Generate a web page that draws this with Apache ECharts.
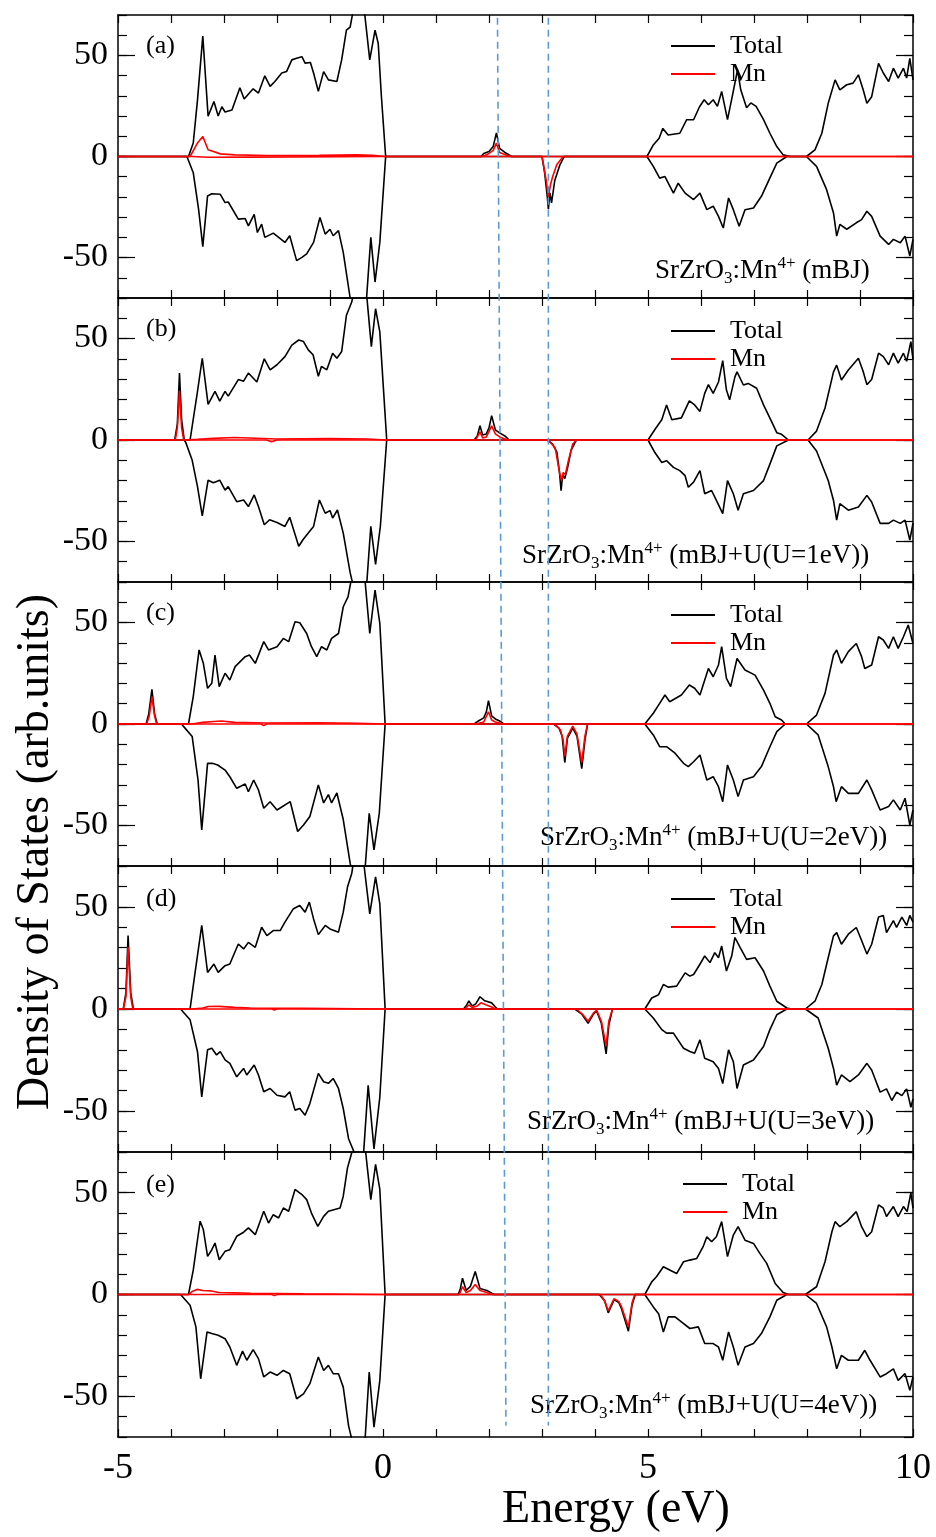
<!DOCTYPE html>
<html><head><meta charset="utf-8">
<script src="https://cdn.jsdelivr.net/npm/echarts@6/dist/echarts.min.js"></script>
<style>html,body{margin:0;padding:0;background:#fff}#c{width:936px;height:1537px}</style>
</head><body><div id="c"></div>
<script>
// ===== DATA (Energy eV, DOS arb.units) =====
const xTickLabels = [-5, 0, 5, 10];
const yTickLabels = [-50, 0, 50];
const legendNames = ['Total', 'Mn'];
const panelTags = ['(a)', '(b)', '(c)', '(d)', '(e)'];
const methodTexts = [' (mBJ)', ' (mBJ+U(U=1eV))', ' (mBJ+U(U=2eV))', ' (mBJ+U(U=3eV))', ' (mBJ+U(U=4eV))'];
const dashLineA = [[2.16, 0.998], [2.32, 0.008]];
const dashLineB = [[3.12, 0.998], [3.12, 0.008]];

// panel (a)
const aTotUp = [[-5,0],[-3.67,0],[-3.58,6.7],[-3.5,28],[-3.4,59.6],[-3.3,19.9],[-3.19,27.2],[-3.11,20],[-3.04,24.6],[-2.98,22],[-2.85,23],[-2.7,34],[-2.62,28.4],[-2.45,33.5],[-2.35,31.4],[-2.23,39.9],[-2.13,34.7],[-2.04,37.1],[-1.91,41.3],[-1.82,42],[-1.72,47.8],[-1.63,48.6],[-1.53,49.4],[-1.47,46.2],[-1.37,46.5],[-1.31,41.3],[-1.22,32.2],[-1.12,42],[-1.03,37.9],[-0.87,37.1],[-0.78,47.8],[-0.69,62.5],[-0.62,64],[-0.55,74],[-0.45,84],[-0.36,74],[-0.25,47.8],[-0.15,62.5],[-0.09,55.9],[-0.03,29.7],[0.05,0],[1.85,0],[1.9,1.5],[2.0,2.5],[2.08,5],[2.14,11.7],[2.2,4],[2.3,2],[2.43,0],[4.98,0],[5.1,5.7],[5.21,9],[5.28,13.9],[5.38,10.6],[5.6,11.5],[5.73,18.2],[5.86,18.2],[5.97,24.5],[6.06,28.1],[6.14,25.6],[6.23,28.1],[6.31,24.8],[6.39,32.2],[6.5,18.2],[6.59,29.7],[6.69,42.9],[6.75,33],[6.86,24.1],[6.94,26.5],[7.04,24.8],[7.18,18.2],[7.3,11.5],[7.43,4.9],[7.55,0.8],[7.68,0],[7.99,0],[8.15,3.3],[8.28,11.5],[8.4,26.3],[8.53,37.9],[8.62,33],[8.75,35.5],[8.87,36.3],[8.97,40.4],[9.06,33],[9.13,26.3],[9.22,29.6],[9.35,46.1],[9.44,41.3],[9.54,37.1],[9.63,43.7],[9.72,38.8],[9.82,43.7],[9.88,38.8],[9.94,48.6],[10,37.9]];
const aTotDn = [[-5,0],[-3.7,0],[-3.58,-8],[-3.48,-26],[-3.4,-44.6],[-3.31,-19.5],[-3.23,-18.4],[-3.07,-18.7],[-2.98,-22.8],[-2.92,-22.5],[-2.73,-31],[-2.6,-30.7],[-2.54,-34.3],[-2.43,-28.6],[-2.37,-37.6],[-2.29,-33.5],[-2.23,-40],[-2.07,-37.9],[-1.85,-42.5],[-1.76,-39.2],[-1.63,-51.5],[-1.53,-49.9],[-1.44,-48.2],[-1.31,-42.5],[-1.19,-30.2],[-1.09,-38.4],[-1.0,-36],[-0.94,-39.2],[-0.84,-36.7],[-0.75,-47.4],[-0.62,-70],[-0.5,-85],[-0.4,-80],[-0.31,-70],[-0.23,-40],[-0.15,-62.1],[-0.06,-42.5],[0.05,0],[3.0,0],[3.05,-8],[3.1,-20],[3.12,-26],[3.15,-18],[3.18,-23],[3.24,-12],[3.34,-4],[3.42,0],[4.98,0],[5.1,-4.9],[5.22,-10.7],[5.32,-9.9],[5.48,-18.1],[5.57,-13.2],[5.7,-18.1],[5.86,-21.3],[5.98,-18.1],[6.11,-26.3],[6.23,-24.6],[6.33,-29.6],[6.42,-35.4],[6.52,-20.5],[6.61,-26.3],[6.72,-34.5],[6.83,-26.3],[6.99,-25.5],[7.14,-19.7],[7.27,-12.3],[7.43,-3.3],[7.62,0],[7.99,0],[8.18,-4.9],[8.37,-16.4],[8.5,-27.9],[8.56,-39.4],[8.62,-33.6],[8.75,-36],[8.93,-32.8],[9.03,-31.2],[9.13,-27.1],[9.22,-29.6],[9.38,-39.4],[9.54,-43.5],[9.63,-41],[9.76,-42.7],[9.85,-39.4],[9.94,-49.2],[10,-41]];
const aMnUp = [[-5,0],[-3.64,0],[-3.5,6.7],[-3.4,9.9],[-3.3,3.3],[-3.2,2.5],[-3.07,1.3],[-2.8,0.8],[-2.2,0.5],[-1.2,0.6],[-0.5,0.8],[-0.2,0.6],[0.05,0],[1.88,0],[2.0,1.5],[2.08,3],[2.14,6.6],[2.2,2],[2.35,0.5],[2.43,0],[10,0]];
const aMnDn = [[-5,0],[-3.6,0],[-3.3,-0.4],[-2.5,-0.3],[0,0],[3.0,0],[3.08,-12],[3.12,-20],[3.16,-14],[3.2,-10],[3.28,-4],[3.4,0],[10,0]];

// panel (b)
const bTotUp = [[-5,0],[-3.93,0],[-3.88,8],[-3.84,33],[-3.8,10],[-3.75,0],[-3.64,0],[-3.5,24],[-3.41,40.3],[-3.3,17.6],[-3.17,24],[-3.08,19.2],[-2.98,24],[-2.92,21.6],[-2.73,29.8],[-2.63,29],[-2.54,33],[-2.38,28.6],[-2.24,40],[-2.13,34.6],[-2.0,37.1],[-1.85,41.1],[-1.72,46.8],[-1.59,49.3],[-1.5,48.5],[-1.41,44.4],[-1.32,42],[-1.22,31.4],[-1.16,36.3],[-1.06,34.6],[-0.95,42.8],[-0.87,40.3],[-0.78,43.6],[-0.69,61.5],[-0.59,68],[-0.5,80],[-0.4,85],[-0.31,72],[-0.22,46],[-0.14,64.7],[-0.06,53.3],[0.07,0],[1.72,0],[1.78,2],[1.83,7],[1.88,2.5],[1.95,3],[2.0,6],[2.05,12],[2.12,5],[2.2,3.5],[2.3,2],[2.38,0],[5.0,0],[5.13,5.2],[5.26,10],[5.35,17.3],[5.45,10],[5.63,10.9],[5.78,19.3],[5.88,17.3],[5.98,14.1],[6.07,23],[6.14,27.3],[6.23,23],[6.33,28.6],[6.41,39.1],[6.48,24.6],[6.54,19.8],[6.64,31.1],[6.68,33.6],[6.8,27.1],[6.89,27.9],[7.05,25.5],[7.18,17.3],[7.33,9.2],[7.43,3.6],[7.52,2.8],[7.65,0],[8.02,0],[8.18,4.4],[8.34,15.8],[8.5,33.6],[8.56,36.9],[8.65,29.6],[8.78,34.5],[8.97,40.3],[9.06,33.8],[9.13,27.3],[9.22,29.8],[9.35,42.8],[9.44,41.1],[9.54,37.1],[9.63,42.8],[9.72,37.9],[9.82,42.8],[9.88,38.8],[9.96,48.5],[10,39.7]];
const bTotDn = [[-5,0],[-3.75,0],[-3.72,-1.3],[-3.6,-10],[-3.5,-23],[-3.41,-37.4],[-3.3,-19.8],[-3.2,-21.1],[-3.08,-19.8],[-2.98,-24.7],[-2.92,-23],[-2.76,-30.4],[-2.63,-29.6],[-2.54,-32.8],[-2.43,-27.1],[-2.35,-32.8],[-2.24,-41.8],[-2.14,-39.3],[-2.0,-40.7],[-1.85,-42.6],[-1.76,-38.1],[-1.59,-52.4],[-1.51,-49.2],[-1.41,-45.9],[-1.31,-42.6],[-1.2,-29.6],[-1.09,-36.1],[-1.0,-34.8],[-0.95,-38.5],[-0.86,-34.5],[-0.75,-45.9],[-0.62,-65.4],[-0.56,-72],[-0.45,-85],[-0.31,-72],[-0.23,-42.6],[-0.14,-61.3],[-0.05,-42.6],[0.07,0],[3.1,0],[3.2,-2],[3.28,-6],[3.33,-16],[3.36,-25],[3.39,-17],[3.43,-19],[3.48,-14],[3.55,-5],[3.65,0],[5.0,0],[5.13,-6.2],[5.26,-11.1],[5.35,-10.2],[5.48,-13.5],[5.6,-15.1],[5.7,-17.6],[5.76,-23.3],[5.86,-20.8],[5.98,-15.1],[6.07,-26.5],[6.2,-24.9],[6.29,-29.8],[6.41,-36.3],[6.5,-20],[6.61,-26.5],[6.7,-34.6],[6.8,-26.5],[6.99,-24.9],[7.18,-20],[7.3,-11.9],[7.43,-2.9],[7.65,0],[8.02,0],[8.18,-5.4],[8.4,-20],[8.5,-29.8],[8.56,-39.5],[8.62,-31.4],[8.78,-34.6],[8.97,-33],[9.13,-27.3],[9.22,-30.6],[9.38,-41.1],[9.54,-41.1],[9.63,-39.5],[9.76,-41.1],[9.85,-39.5],[9.94,-49.3],[10,-41]];
const bMnUp = [[-5,0],[-3.92,0],[-3.88,6],[-3.84,24.2],[-3.8,6],[-3.76,0],[-3.5,0.3],[-3.2,0.8],[-2.8,1.2],[-2.0,0.5],[-1.0,0.7],[-0.3,0.5],[0.05,0],[1.75,0],[1.83,4],[1.88,1],[1.95,1.5],[2.05,7],[2.12,3],[2.2,1.5],[2.3,0.5],[2.35,0],[10,0]];
const bMnDn = [[-5,0],[-2.2,0],[-2.1,-0.8],[-2.0,0],[3.12,0],[3.25,-4],[3.33,-16],[3.37,-20],[3.4,-16],[3.44,-17],[3.5,-10],[3.58,-2],[3.65,0],[10,0]];

// panel (c)
const cTotUp = [[-5,0],[-4.47,0],[-4.42,5],[-4.36,17.1],[-4.31,5],[-4.26,0],[-3.67,0],[-3.58,13.5],[-3.47,36.5],[-3.39,29.9],[-3.31,17.6],[-3.23,20.1],[-3.17,34],[-3.09,18.4],[-2.98,25],[-2.89,21.7],[-2.79,28.3],[-2.6,33.2],[-2.52,34],[-2.41,29.9],[-2.25,40.6],[-2.16,36.5],[-2.0,38.1],[-1.88,42.2],[-1.78,40.6],[-1.66,50.4],[-1.57,49.9],[-1.44,44.6],[-1.35,38.1],[-1.25,33.2],[-1.16,38.1],[-1.06,36.5],[-0.97,42.2],[-0.84,44.6],[-0.75,57.8],[-0.66,62.7],[-0.6,71],[-0.48,85],[-0.34,71],[-0.25,44.6],[-0.15,66],[-0.06,49.6],[0.04,0],[1.72,0],[1.8,1.5],[1.9,3],[1.95,6],[1.99,11.5],[2.05,4],[2.12,2.5],[2.2,1.5],[2.28,0],[4.94,0],[5.1,5.3],[5.22,10.2],[5.32,14.3],[5.41,11],[5.63,14.3],[5.78,19.2],[5.88,17.6],[5.98,14.3],[6.14,27.4],[6.23,23.3],[6.33,29.1],[6.39,38.1],[6.48,22.5],[6.56,18.4],[6.68,32.3],[6.83,26.6],[7.02,24.1],[7.18,16.7],[7.3,10.2],[7.4,3.6],[7.52,2],[7.59,0],[7.99,0],[8.18,4.4],[8.34,15.1],[8.5,34],[8.56,36.5],[8.65,29.9],[8.78,35.7],[8.93,39.7],[9.03,33.2],[9.09,27.4],[9.22,29.1],[9.35,43],[9.44,41.4],[9.54,37.3],[9.63,43],[9.72,37.3],[9.82,43],[9.91,48.8],[10,39.7]];
const cTotDn = [[-5,0],[-3.8,0],[-3.76,-1.3],[-3.6,-6.2],[-3.49,-27.6],[-3.42,-52.2],[-3.31,-19.4],[-3.22,-19.4],[-3.12,-20.2],[-2.98,-22.7],[-2.89,-26],[-2.76,-31.7],[-2.6,-29.6],[-2.54,-33.4],[-2.44,-27.6],[-2.35,-32.5],[-2.25,-41.5],[-2.13,-38.3],[-2.0,-42.4],[-1.75,-38.3],[-1.61,-53],[-1.5,-49.8],[-1.38,-45.6],[-1.22,-30],[-1.12,-38.9],[-1.03,-34.8],[-0.97,-38.9],[-0.87,-34],[-0.75,-47.1],[-0.62,-68.6],[-0.48,-85],[-0.34,-72],[-0.26,-44],[-0.17,-62],[-0.07,-44],[0.04,0],[3.22,0],[3.32,-2],[3.38,-6],[3.43,-19],[3.48,-7],[3.58,-2],[3.66,-6],[3.75,-22],[3.81,-8],[3.86,0],[4.94,0],[5.1,-5.4],[5.22,-11.2],[5.35,-11.2],[5.51,-14.4],[5.67,-19.4],[5.76,-21],[5.86,-18.6],[5.98,-15.3],[6.11,-27.6],[6.23,-26],[6.33,-30.9],[6.41,-38.3],[6.5,-20.2],[6.61,-27.6],[6.7,-35.8],[6.8,-27.6],[6.99,-26],[7.14,-21],[7.3,-11.2],[7.43,-3.8],[7.59,0],[7.99,0],[8.21,-5.4],[8.4,-21],[8.5,-30.9],[8.55,-38.3],[8.65,-30.9],[8.78,-34.2],[8.97,-34.2],[9.13,-27.6],[9.22,-32.5],[9.38,-42.4],[9.54,-40.7],[9.63,-37.4],[9.76,-42.4],[9.85,-36.6],[9.94,-49.8],[10,-42.4]];
const cMnUp = [[-5,0],[-4.46,0],[-4.41,4],[-4.36,13.5],[-4.31,4],[-4.27,0],[-3.6,0],[-3.4,0.8],[-3.2,1.2],[-3.05,1.5],[-2.8,0.8],[-2.2,0.5],[-1.2,0.6],[-0.5,0.3],[0.04,0],[1.75,0],[1.9,1],[1.99,6],[2.05,2],[2.12,1],[2.2,0.5],[2.25,0],[10,0]];
const cMnDn = [[-5,0],[-2.3,0],[-2.25,-0.8],[-2.2,0],[3.24,0],[3.35,-3],[3.4,-8],[3.43,-16],[3.48,-6],[3.58,-1],[3.66,-5],[3.75,-19],[3.81,-6],[3.86,0],[10,0]];

// panel (d)
const dTotUp = [[-5,0],[-4.9,0],[-4.85,8],[-4.81,36],[-4.76,8],[-4.71,0],[-3.64,0],[-3.55,17.1],[-3.42,40.9],[-3.31,17.9],[-3.19,22],[-3.11,17.9],[-2.98,21.2],[-2.89,22],[-2.73,31.8],[-2.63,29.4],[-2.54,32.6],[-2.41,30.2],[-2.29,40],[-2.19,35.9],[-2.07,38.4],[-1.94,38.4],[-1.85,42.5],[-1.69,49.1],[-1.57,50.7],[-1.47,47.4],[-1.39,52.3],[-1.31,44.1],[-1.22,36.4],[-1.09,40.9],[-1.0,39.2],[-0.84,37.6],[-0.75,47.4],[-0.67,59.7],[-0.59,66.3],[-0.5,82],[-0.37,73],[-0.25,46.6],[-0.14,64.7],[-0.06,51.5],[0.04,0],[1.52,0],[1.58,2],[1.62,4],[1.68,1.5],[1.75,2.5],[1.83,6],[1.92,4],[2.05,3],[2.12,1],[2.16,0],[4.94,0],[5.07,5.4],[5.2,7],[5.29,12],[5.38,10.7],[5.54,11.2],[5.7,17.7],[5.79,16.1],[5.86,16.9],[5.98,21.9],[6.07,26],[6.17,22.7],[6.26,27.6],[6.33,25.1],[6.39,30.8],[6.48,18.6],[6.58,26],[6.64,35],[6.74,30.1],[6.86,24.3],[7.02,25.1],[7.18,18.6],[7.3,11.2],[7.43,3.8],[7.62,0.5],[7.7,0],[7.97,0],[8.15,3.8],[8.28,12],[8.4,25.1],[8.5,35.8],[8.56,37.4],[8.65,31.7],[8.78,36.6],[8.93,39.9],[9.03,33.5],[9.13,26.9],[9.22,31.7],[9.35,45],[9.44,45.8],[9.5,37.4],[9.63,43.3],[9.69,40],[9.79,45],[9.88,40.9],[9.94,45.8],[10,42.5]];
const dTotDn = [[-5,0],[-3.82,0],[-3.8,-0.3],[-3.64,-5.3],[-3.5,-20.9],[-3.42,-43],[-3.31,-20],[-3.23,-19.2],[-3.14,-22.5],[-3.07,-20.9],[-2.98,-24.9],[-2.89,-26.6],[-2.76,-33.2],[-2.63,-29.1],[-2.57,-32.3],[-2.43,-27.4],[-2.35,-32.3],[-2.25,-40.5],[-2.13,-38.9],[-2.0,-42.2],[-1.85,-43],[-1.76,-40.5],[-1.66,-49.5],[-1.57,-48.7],[-1.47,-52],[-1.38,-46.3],[-1.22,-31.5],[-1.12,-35.6],[-1.03,-36.4],[-0.94,-34],[-0.84,-38.9],[-0.75,-48.7],[-0.65,-63.5],[-0.53,-71],[-0.45,-82],[-0.37,-72],[-0.28,-37.3],[-0.17,-68.5],[-0.06,-43.1],[0.04,0],[3.62,0],[3.75,-2.5],[3.87,-7],[3.97,-2.5],[4.03,-1],[4.12,-7],[4.21,-22],[4.26,-8],[4.33,0],[4.94,0],[5.1,-4.4],[5.26,-10.1],[5.35,-11.8],[5.48,-11.8],[5.67,-19.2],[5.79,-20.8],[5.88,-21.7],[5.98,-15.1],[6.07,-24.1],[6.23,-25.8],[6.33,-29.1],[6.41,-36.5],[6.52,-20],[6.61,-25.8],[6.68,-38.9],[6.8,-27.4],[6.99,-25],[7.18,-18.4],[7.3,-10.1],[7.43,-2.8],[7.62,0],[7.97,0],[8.21,-4.4],[8.4,-19.2],[8.5,-29.1],[8.56,-37.3],[8.65,-32.3],[8.81,-35.6],[8.97,-32.3],[9.13,-26.6],[9.22,-29.9],[9.38,-40.7],[9.5,-39.1],[9.6,-44.8],[9.69,-40.7],[9.79,-42.4],[9.88,-39.1],[9.96,-48.1],[10,-44]];
const dMnUp = [[-5,0],[-4.9,0],[-4.85,6],[-4.81,30.3],[-4.76,6],[-4.72,0],[-3.6,0],[-3.4,0.5],[-3.3,1.2],[-3.1,1.3],[-2.8,0.8],[-2.5,0.5],[-1.5,0.3],[0.04,0],[1.55,0],[1.62,2],[1.68,0.8],[1.78,1.5],[1.85,3],[1.95,2],[2.05,1],[2.12,0],[10,0]];
const dMnDn = [[-5,0],[-2.1,0],[-2.05,-0.5],[-2.0,0],[3.65,0],[3.78,-3],[3.87,-6],[3.97,-2],[4.03,-0.5],[4.12,-6],[4.21,-18],[4.26,-6],[4.33,0],[10,0]];

// panel (e)
const eTotUp = [[-5,0],[-3.67,0],[-3.58,12],[-3.5,26.9],[-3.45,36],[-3.39,31.9],[-3.31,18.7],[-3.23,22],[-3.17,25.3],[-3.09,17.1],[-2.98,21.2],[-2.89,22],[-2.76,28.6],[-2.63,30.6],[-2.54,32.7],[-2.41,29.4],[-2.25,40.9],[-2.16,35.1],[-2.07,39.2],[-1.97,37.6],[-1.88,42.5],[-1.78,40.9],[-1.66,51.6],[-1.53,49.1],[-1.44,46.6],[-1.35,40],[-1.23,33.5],[-1.12,38.4],[-1.03,40.9],[-0.81,42.5],[-0.75,48.3],[-0.67,62.2],[-0.59,69.6],[-0.48,85],[-0.34,73],[-0.23,46.6],[-0.14,63.9],[-0.06,51.6],[0.04,0],[1.42,0],[1.46,3],[1.5,8],[1.57,2],[1.65,4],[1.74,11.3],[1.83,3],[1.96,2],[2.06,0.5],[2.1,0],[4.94,0],[5.07,6.2],[5.16,8.7],[5.29,13.6],[5.41,12],[5.54,10.3],[5.67,16.1],[5.79,16.9],[5.92,17.7],[6.04,23.5],[6.11,28.4],[6.2,25.9],[6.29,28.4],[6.39,35.8],[6.5,18.6],[6.61,29.2],[6.7,33.3],[6.83,26.7],[6.99,25.1],[7.11,20.2],[7.24,15.3],[7.4,5.4],[7.55,1],[7.65,0],[7.97,0],[8.18,3.8],[8.34,16.1],[8.47,30.8],[8.53,35.8],[8.62,33.3],[8.75,35.8],[8.93,40.7],[9.03,33.3],[9.13,28.4],[9.22,30.8],[9.35,44],[9.44,42.4],[9.5,38.3],[9.63,43.2],[9.72,38.3],[9.82,43.2],[9.89,40.7],[9.96,49.9],[10,42.4]];
const eTotDn = [[-5,0],[-3.82,0],[-3.8,-0.3],[-3.64,-5.3],[-3.53,-15.9],[-3.44,-41.4],[-3.32,-18.4],[-3.23,-19.2],[-3.11,-20],[-2.98,-21.7],[-2.89,-25.8],[-2.76,-34.8],[-2.65,-27.8],[-2.57,-32.3],[-2.45,-27.1],[-2.35,-31.5],[-2.25,-40.5],[-2.13,-38.1],[-2.0,-39.7],[-1.88,-37.3],[-1.76,-38.9],[-1.63,-51.2],[-1.5,-48.8],[-1.38,-43.8],[-1.22,-30.7],[-1.12,-37.3],[-1.03,-34.8],[-0.94,-38.9],[-0.84,-38.9],[-0.75,-45.5],[-0.65,-64.4],[-0.59,-71],[-0.47,-85],[-0.34,-72],[-0.26,-38.1],[-0.17,-65.2],[-0.06,-42.2],[0.04,0],[4.08,0],[4.18,-3],[4.25,-9],[4.36,-2.5],[4.45,-4],[4.5,-7],[4.63,-18],[4.7,-5],[4.76,0],[4.94,0],[5.1,-6.1],[5.2,-9.4],[5.29,-18.4],[5.38,-11],[5.51,-11],[5.63,-13.5],[5.79,-16.7],[5.95,-15.9],[6.07,-24.1],[6.23,-24.1],[6.33,-25.8],[6.41,-32.3],[6.52,-18.4],[6.61,-25.8],[6.7,-34.8],[6.83,-25.8],[6.99,-24.1],[7.14,-19.2],[7.3,-11],[7.43,-2.8],[7.62,0],[7.97,0],[8.18,-4.4],[8.37,-15.9],[8.47,-25.8],[8.56,-36.5],[8.65,-29.9],[8.78,-32.3],[8.97,-32.3],[9.09,-27.4],[9.19,-32.3],[9.38,-40.5],[9.5,-38.9],[9.63,-36.5],[9.72,-42.2],[9.85,-38.9],[9.94,-47.1],[10,-40.5]];
const eMnUp = [[-5,0],[-3.66,0],[-3.6,1.5],[-3.51,2.5],[-3.4,2],[-3.26,1.8],[-3.1,1],[-2.8,0.8],[-2.5,0.6],[-1.5,0.3],[0.04,0],[1.44,0],[1.5,3.8],[1.57,1],[1.65,2],[1.74,4.9],[1.83,2],[1.96,1],[2.06,0],[10,0]];
const eMnDn = [[-5,0],[-2.1,0],[-2.05,-0.5],[-2.0,0],[4.1,0],[4.18,-3],[4.25,-8],[4.36,-2],[4.45,-3.5],[4.5,-6],[4.63,-16],[4.7,-4],[4.75,0],[10,0]];

// ===== BUILD =====
const FONT = '"Liberation Serif","Times New Roman",serif';
const panels = [
  [aTotUp, aTotDn, aMnUp, aMnDn],
  [bTotUp, bTotDn, bMnUp, bMnDn],
  [cTotUp, cTotDn, cMnUp, cMnDn],
  [dTotUp, dTotDn, dMnUp, dMnDn],
  [eTotUp, eTotDn, eMnUp, eMnDn]
];
const gridTop = [15, 298, 582, 866, 1152];
const gridH = [283, 284, 284, 286, 285];
const legLeft = [666, 666, 666, 666, 678];
const legMid = [44, 329, 613, 897, 1182];
const tagMid = [47, 330, 614, 900, 1186];
const methLeft = [655, 522, 540, 527, 530];
const methMid = [271, 556, 838, 1122, 1406];

const grid = [], xAxis = [], yAxis = [], series = [], legend = [], title = [];
const axLine = {show: true, onZero: false, lineStyle: {color: '#000', width: 1.5}};
const noLine = {show: false, onZero: false};
panels.forEach((p, i) => {
  grid.push({left: 118, width: 795, top: gridTop[i], height: gridH[i]});
  const xBase = {type: 'value', gridIndex: i, min: -5, max: 10, interval: 1,
    axisLine: axLine, splitLine: {show: false},
    axisTick: {inside: true, length: 8, lineStyle: {color: '#000', width: 1.2}}};
  xAxis.push(Object.assign({}, xBase, {position: 'bottom',
    axisLabel: {show: i === 4, margin: 14, color: '#000', fontFamily: FONT, fontSize: 36,
      showMinLabel: true, showMaxLabel: true,
      formatter: v => xTickLabels.includes(v) ? String(v) : ''}}));
  xAxis.push(Object.assign({}, xBase, {position: 'top', axisLabel: {show: false}}));
  const yBase = {type: 'value', gridIndex: i, min: -70, max: 70, interval: 10, splitLine: {show: false}};
  yAxis.push(Object.assign({}, yBase, {position: 'left', axisLine: axLine,
    axisTick: {inside: true, length: 9, lineStyle: {color: '#000', width: 1.2}},
    axisLabel: {margin: 10, color: '#000', fontFamily: FONT, fontSize: 34,
      formatter: v => yTickLabels.includes(v) ? String(v) : ''}}));
  yAxis.push(Object.assign({}, yBase, {position: 'left', axisLine: noLine,
    axisTick: {inside: true, length: 17, customValues: yTickLabels, lineStyle: {color: '#000', width: 1.2}},
    axisLabel: {show: false}}));
  yAxis.push(Object.assign({}, yBase, {position: 'right', axisLine: axLine,
    axisTick: {inside: true, length: 9, lineStyle: {color: '#000', width: 1.2}}, axisLabel: {show: false}}));
  yAxis.push(Object.assign({}, yBase, {position: 'right', axisLine: noLine,
    axisTick: {inside: true, length: 17, customValues: yTickLabels, lineStyle: {color: '#000', width: 1.2}},
    axisLabel: {show: false}}));
  const mk = (name, data, color, z) => ({type: 'line', name, data, xAxisIndex: 2 * i, yAxisIndex: 4 * i,
    symbol: 'none', clip: true, z, lineStyle: {color, width: 1.6}, itemStyle: {color}, animation: false});
  series.push(mk(legendNames[0], p[0], '#000', 2), mk(legendNames[0], p[1], '#000', 2),
              mk(legendNames[1], p[2], '#ff0000', 3), mk(legendNames[1], p[3], '#ff0000', 3));
  legend.push({data: legendNames, orient: 'vertical', left: legLeft[i], top: legMid[i] - 16,
    icon: 'rect', itemWidth: 44, itemHeight: 2, itemGap: 2, selectedMode: false,
    textStyle: {fontFamily: FONT, fontSize: 26, color: '#000', lineHeight: 26, padding: [0, 0, 0, 10]}});
  title.push({text: panelTags[i], left: 146, top: tagMid[i] - 14, padding: 0,
    textStyle: {fontFamily: FONT, fontSize: 26, fontWeight: 'normal', color: '#000'}});
  title.push({text: '{n|SrZrO}{sub|3}{n|:Mn}{sup|4+}{n|' + methodTexts[i] + '}',
    left: methLeft[i], top: methMid[i] - 16, padding: 0,
    textStyle: {fontFamily: FONT, fontSize: 27, fontWeight: 'normal', color: '#000',
      rich: {
        n: {fontFamily: FONT, fontSize: 27, lineHeight: 32, color: '#000'},
        sub: {fontFamily: FONT, fontSize: 17, lineHeight: 17, verticalAlign: 'bottom', color: '#000'},
        sup: {fontFamily: FONT, fontSize: 17, lineHeight: 17, verticalAlign: 'top', color: '#000'}
      }}});
});
// overlay for the dashed guide lines spanning all panels
grid.push({left: 118, width: 795, top: 15, height: 1422});
xAxis.push({type: 'value', gridIndex: 5, min: -5, max: 10, show: false});
yAxis.push({type: 'value', gridIndex: 5, min: 0, max: 1, show: false});
[dashLineA, dashLineB].forEach(d => series.push({type: 'line', data: d, xAxisIndex: 10, yAxisIndex: 20,
  symbol: 'none', z: 10, animation: false, silent: true,
  lineStyle: {color: '#5b9bd5', width: 1.6, type: [7, 5]}}));

const chart = echarts.init(document.getElementById('c'), null, {renderer: 'canvas'});
chart.setOption({
  backgroundColor: '#fff', animation: false,
  grid, xAxis, yAxis, series, legend, title,
  graphic: [
    {type: 'text', x: 36, y: 852, rotation: Math.PI / 2,
     style: {text: 'Density of States (arb.units)', fontFamily: FONT, fontSize: 46, fill: '#000',
       align: 'center', verticalAlign: 'middle'}},
    {type: 'text', x: 616, y: 1510,
     style: {text: 'Energy (eV)', fontFamily: FONT, fontSize: 46, fill: '#000',
       align: 'center', verticalAlign: 'middle'}}
  ]
});
</script></body></html>
